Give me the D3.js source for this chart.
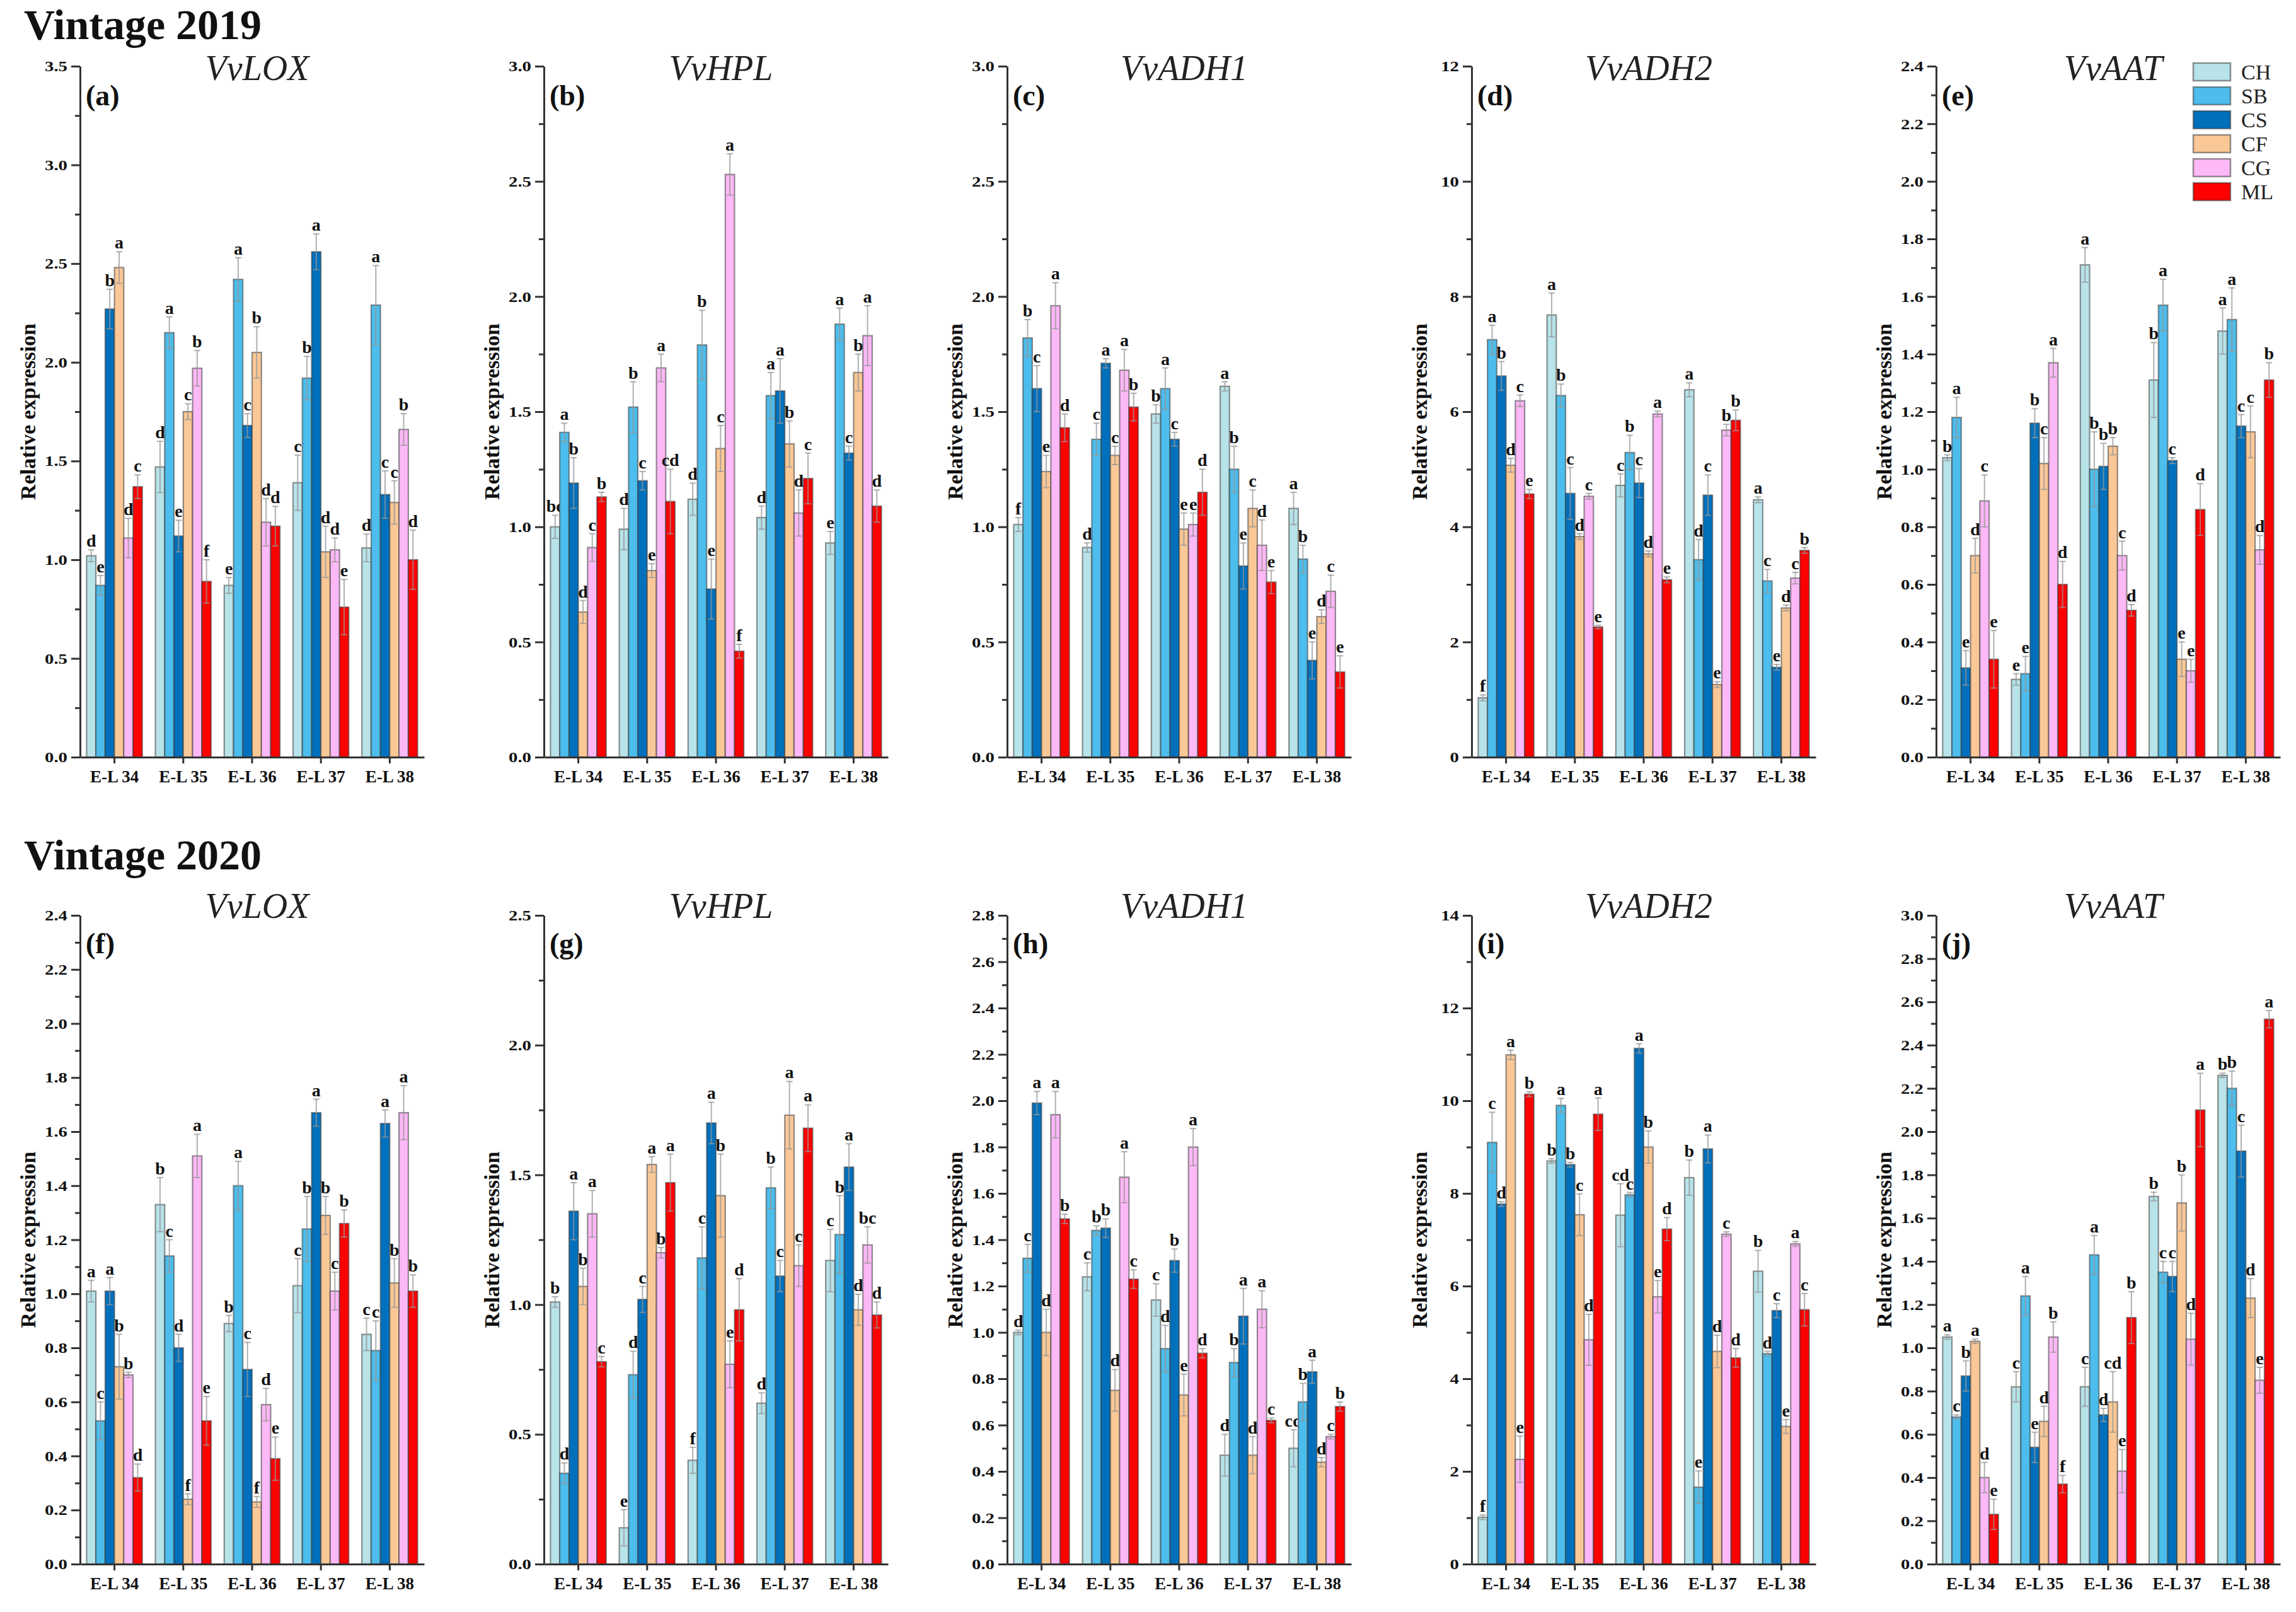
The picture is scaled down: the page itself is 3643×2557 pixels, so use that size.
<!DOCTYPE html>
<html><head><meta charset="utf-8">
<script src="https://cdn.jsdelivr.net/npm/d3@7"></script>
<style>
body{margin:0;background:#fff}
svg{display:block;background:#fff}
text{font-family:"Liberation Serif","Times New Roman",serif}
</style>
</head><body>
<svg id="chart" width="3643" height="2557"></svg>
<script>
// ---------------- DATA ----------------
const stages = ["E-L 34","E-L 35","E-L 36","E-L 37","E-L 38"];
const cultivars = ["CH","SB","CS","CF","CG","ML"];
const vintages = ["Vintage 2019","Vintage 2020"];
const genes = ["VvLOX","VvHPL","VvADH1","VvADH2","VvAAT"];
const panelLabels = ["(a)","(b)","(c)","(d)","(e)","(f)","(g)","(h)","(i)","(j)"];

// values per stage: [CH, SB, CS, CF, CG, ML]
const lox2019 = [[1.02,0.87,2.27,2.48,1.11,1.37],[1.47,2.15,1.12,1.75,1.97,0.89],[0.87,2.42,1.68,2.05,1.19,1.17],[1.39,1.92,2.56,1.04,1.05,0.76],[1.06,2.29,1.33,1.29,1.66,1.00]];
const lox2019Err = [[0.03,0.05,0.10,0.08,0.10,0.06],[0.13,0.08,0.08,0.04,0.09,0.11],[0.04,0.11,0.06,0.13,0.12,0.10],[0.14,0.11,0.09,0.13,0.06,0.14],[0.07,0.20,0.12,0.11,0.08,0.15]];
const lox2019Let = [["d","e","b","a","d","c"],["d","a","e","c","b","f"],["e","a","c","b","d","d"],["c","b","a","d","d","e"],["d","a","c","c","b","d"]];

const hpl2019 = [[1.00,1.41,1.19,0.63,0.91,1.13],[0.99,1.52,1.20,0.81,1.69,1.11],[1.12,1.79,0.73,1.34,2.53,0.46],[1.04,1.57,1.59,1.36,1.06,1.21],[0.93,1.88,1.32,1.67,1.83,1.09]];
const hpl2019Err = [[0.05,0.04,0.11,0.05,0.06,0.02],[0.09,0.11,0.04,0.03,0.06,0.14],[0.07,0.15,0.13,0.10,0.09,0.03],[0.05,0.10,0.14,0.10,0.10,0.11],[0.05,0.07,0.03,0.08,0.13,0.07]];
const hpl2019Let = [["bc","a","b","d","c","b"],["d","b","c","e","a","cd"],["d","b","e","c","a","f"],["d","a","a","b","d","c"],["e","a","c","b","a","d"]];

const adh1_2019 = [[1.01,1.82,1.60,1.24,1.96,1.43],[0.91,1.38,1.71,1.31,1.68,1.52],[1.49,1.60,1.38,0.99,1.01,1.15],[1.61,1.25,0.83,1.08,0.92,0.76],[1.08,0.86,0.42,0.61,0.72,0.37]];
const adh1_2019Err = [[0.03,0.08,0.10,0.07,0.10,0.06],[0.02,0.07,0.02,0.04,0.09,0.06],[0.04,0.09,0.03,0.07,0.05,0.10],[0.02,0.10,0.10,0.08,0.11,0.05],[0.07,0.06,0.08,0.03,0.07,0.07]];
const adh1_2019Let = [["f","b","c","e","a","d"],["d","c","a","c","a","b"],["b","a","c","e","e","d"],["a","b","e","c","d","e"],["a","b","e","d","c","e"]];

const adh2_2019 = [[1.03,7.25,6.62,5.07,6.19,4.57],[7.68,6.28,4.58,3.83,4.53,2.26],[4.72,5.29,4.76,3.53,5.96,3.08],[6.38,3.43,4.55,1.26,5.68,5.85],[4.47,3.06,1.56,2.59,3.11,3.59]];
const adh2_2019Err = [[0.05,0.25,0.25,0.12,0.10,0.08],[0.38,0.20,0.45,0.05,0.05,0.03],[0.20,0.30,0.25,0.05,0.05,0.05],[0.12,0.35,0.35,0.05,0.10,0.18],[0.05,0.20,0.05,0.05,0.10,0.05]];
const adh2_2019Let = [["f","a","b","d","c","e"],["a","b","c","d","c","e"],["c","b","c","d","a","e"],["a","d","c","e","b","b"],["a","c","e","d","c","b"]];

const aat2019 = [[1.04,1.18,0.31,0.70,0.89,0.34],[0.27,0.29,1.16,1.02,1.37,0.60],[1.71,1.00,1.01,1.08,0.70,0.51],[1.31,1.57,1.03,0.34,0.30,0.86],[1.48,1.52,1.15,1.13,0.72,1.31]];
const aat2019Err = [[0.01,0.07,0.06,0.06,0.09,0.10],[0.02,0.06,0.05,0.09,0.05,0.08],[0.06,0.13,0.08,0.03,0.05,0.02],[0.13,0.09,0.01,0.06,0.04,0.09],[0.08,0.11,0.04,0.09,0.05,0.06]];
const aat2019Let = [["b","a","e","d","c","e"],["e","e","b","c","a","d"],["a","b","b","b","c","d"],["b","a","c","e","e","d"],["a","a","c","c","d","b"]];

const lox2020 = [[1.01,0.53,1.01,0.73,0.70,0.32],[1.33,1.14,0.80,0.24,1.51,0.53],[0.89,1.40,0.72,0.23,0.59,0.39],[1.03,1.24,1.67,1.29,1.01,1.26],[0.85,0.79,1.63,1.04,1.67,1.01]];
const lox2020Err = [[0.04,0.07,0.05,0.12,0.01,0.05],[0.10,0.06,0.05,0.02,0.08,0.09],[0.03,0.09,0.10,0.02,0.06,0.08],[0.10,0.12,0.05,0.07,0.07,0.05],[0.06,0.11,0.05,0.09,0.10,0.06]];
const lox2020Let = [["a","c","a","b","b","d"],["b","c","d","f","a","e"],["b","a","c","f","d","e"],["c","b","a","b","c","b"],["c","c","a","b","a","b"]];

const hpl2020 = [[1.01,0.35,1.36,1.07,1.35,0.78],[0.14,0.73,1.02,1.54,1.20,1.47],[0.40,1.18,1.70,1.42,0.77,0.98],[0.62,1.45,1.11,1.73,1.15,1.68],[1.17,1.27,1.53,0.98,1.23,0.96]];
const hpl2020Err = [[0.02,0.04,0.11,0.07,0.09,0.02],[0.07,0.09,0.05,0.03,0.02,0.11],[0.05,0.12,0.08,0.16,0.09,0.12],[0.04,0.08,0.06,0.13,0.08,0.09],[0.12,0.15,0.09,0.06,0.07,0.05]];
const hpl2020Let = [["b","d","a","b","a","c"],["e","d","c","a","b","a"],["f","c","a","b","e","d"],["d","b","c","a","c","a"],["c","b","a","d","bc","d"]];

const adh1_2020 = [[1.00,1.32,1.99,1.00,1.94,1.49],[1.24,1.44,1.45,0.75,1.67,1.23],[1.14,0.93,1.31,0.73,1.80,0.91],[0.47,0.87,1.07,0.47,1.10,0.62],[0.50,0.70,0.83,0.44,0.55,0.68]];
const adh1_2020Err = [[0.01,0.06,0.05,0.10,0.10,0.02],[0.06,0.02,0.04,0.09,0.11,0.04],[0.07,0.10,0.05,0.09,0.08,0.02],[0.09,0.06,0.12,0.08,0.08,0.01],[0.08,0.08,0.05,0.02,0.01,0.02]];
const adh1_2020Let = [["d","c","a","d","a","b"],["c","b","b","d","a","c"],["c","d","b","e","a","d"],["d","b","a","d","a","c"],["cd","b","a","d","c","b"]];

const adh2_2020 = [[1.01,9.10,7.77,10.99,2.26,10.14],[8.70,9.90,8.62,7.54,4.84,9.71],[7.53,7.97,11.13,9.00,5.77,7.23],[8.34,1.66,8.96,4.59,7.12,4.45],[6.32,4.54,5.47,2.97,6.91,5.49]];
const adh2_2020Err = [[0.05,0.65,0.05,0.10,0.50,0.05],[0.05,0.15,0.05,0.45,0.55,0.35],[0.68,0.05,0.10,0.35,0.35,0.25],[0.38,0.35,0.30,0.35,0.05,0.20],[0.45,0.05,0.15,0.15,0.05,0.35]];
const adh2_2020Let = [["f","c","d","a","e","b"],["b","a","b","c","d","a"],["cd","c","a","b","e","d"],["b","e","a","d","c","d"],["b","d","c","e","a","c"]];

const aat2020 = [[1.05,0.68,0.87,1.03,0.40,0.23],[0.82,1.24,0.54,0.66,1.05,0.37],[0.82,1.43,0.69,0.75,0.43,1.14],[1.70,1.35,1.33,1.67,1.04,2.10],[2.26,2.20,1.91,1.23,0.85,2.52]];
const aat2020Err = [[0.01,0.01,0.07,0.01,0.07,0.07],[0.07,0.09,0.07,0.07,0.07,0.04],[0.09,0.09,0.03,0.14,0.10,0.12],[0.02,0.05,0.07,0.13,0.12,0.17],[0.01,0.08,0.12,0.09,0.06,0.04]];
const aat2020Let = [["a","c","b","a","d","e"],["c","a","e","d","b","f"],["c","a","d","cd","e","b"],["b","c","c","b","d","a"],["b","b","c","d","e","a"]];

// y tick labels
const ticksLox2019 = [0.0,0.5,1.0,1.5,2.0,2.5,3.0,3.5];
const ticksHpl2019 = [0.0,0.5,1.0,1.5,2.0,2.5,3.0];
const ticksAdh1_2019 = [0.0,0.5,1.0,1.5,2.0,2.5,3.0];
const ticksAdh2_2019 = [0,2,4,6,8,10,12];
const ticksAat2019 = [0.0,0.2,0.4,0.6,0.8,1.0,1.2,1.4,1.6,1.8,2.0,2.2,2.4];
const ticksLox2020 = [0.0,0.2,0.4,0.6,0.8,1.0,1.2,1.4,1.6,1.8,2.0,2.2,2.4];
const ticksHpl2020 = [0.0,0.5,1.0,1.5,2.0,2.5];
const ticksAdh1_2020 = [0.0,0.2,0.4,0.6,0.8,1.0,1.2,1.4,1.6,1.8,2.0,2.2,2.4,2.6,2.8];
const ticksAdh2_2020 = [0,2,4,6,8,10,12,14];
const ticksAat2020 = [0.0,0.2,0.4,0.6,0.8,1.0,1.2,1.4,1.6,1.8,2.0,2.2,2.4,2.6,2.8,3.0];

// ---------------- STYLE / LAYOUT ----------------
const colors = ["#b7e3e9","#4cbdec","#0070bc","#fac897","#fdb8f7","#fe0000"];
const colX = [127, 863, 1598, 2335, 3072];
const rowTop = [105, 1452];
const rowH = [1096, 1029];
const geneBase = [127, 1456];
const labelBase = [167, 1512];
const vintageBase = [62, 1379];
const plotW = 546;
const FONT = '"Liberation Serif","Times New Roman",serif';

const panels = [
  {vals:lox2019, err:lox2019Err, let:lox2019Let, ticks:ticksLox2019, dec:1},
  {vals:hpl2019, err:hpl2019Err, let:hpl2019Let, ticks:ticksHpl2019, dec:1},
  {vals:adh1_2019, err:adh1_2019Err, let:adh1_2019Let, ticks:ticksAdh1_2019, dec:1},
  {vals:adh2_2019, err:adh2_2019Err, let:adh2_2019Let, ticks:ticksAdh2_2019, dec:0},
  {vals:aat2019, err:aat2019Err, let:aat2019Let, ticks:ticksAat2019, dec:1},
  {vals:lox2020, err:lox2020Err, let:lox2020Let, ticks:ticksLox2020, dec:1},
  {vals:hpl2020, err:hpl2020Err, let:hpl2020Let, ticks:ticksHpl2020, dec:1},
  {vals:adh1_2020, err:adh1_2020Err, let:adh1_2020Let, ticks:ticksAdh1_2020, dec:1},
  {vals:adh2_2020, err:adh2_2020Err, let:adh2_2020Let, ticks:ticksAdh2_2020, dec:0},
  {vals:aat2020, err:aat2020Err, let:aat2020Let, ticks:ticksAat2020, dec:1}
];

const svg = d3.select("#chart");
svg.append("rect").attr("width",3643).attr("height",2557).attr("fill","#fff");

// vintage titles
vintages.forEach((v,r)=>{
  svg.append("text").attr("x",38).attr("y", vintageBase[r])
    .attr("font-size",68).attr("font-weight","bold").attr("fill","#111").text(v);
});

panels.forEach((p,k)=>{
  const r = Math.floor(k/5), c = k%5;
  const x0 = colX[c], top = rowTop[r], plotH = rowH[r];
  const g = svg.append("g");
  const yMax = p.ticks[p.ticks.length-1];
  const y = d3.scaleLinear().domain([0,yMax]).range([top+plotH, top]);
  const xb = d3.scaleBand().domain(stages).range([x0, x0+plotW]).paddingInner(0.19).paddingOuter(0.095);
  const xi = d3.scaleBand().domain(cultivars).range([0, xb.bandwidth()]);

  // bars
  stages.forEach((s,i)=>{
    cultivars.forEach((cv,j)=>{
      const v = p.vals[i][j], e = p.err[i][j];
      const bx = xb(s)+xi(cv), bw = xi.bandwidth();
      g.append("rect").attr("x",bx).attr("y",y(v)).attr("width",bw).attr("height",y(0)-y(v))
        .attr("fill",colors[j]).attr("stroke","rgba(60,60,60,0.55)").attr("stroke-width",2.2);
      const cx = bx+bw/2;
      const eg = g.append("g").attr("stroke","rgba(150,150,150,0.75)").attr("stroke-width",2);
      eg.append("line").attr("x1",cx).attr("x2",cx).attr("y1",y(v-e)).attr("y2",y(v+e));
      eg.append("line").attr("x1",cx-5).attr("x2",cx+5).attr("y1",y(v+e)).attr("y2",y(v+e));
      eg.append("line").attr("x1",cx-5).attr("x2",cx+5).attr("y1",y(v-e)).attr("y2",y(v-e));
      g.append("text").attr("x",cx).attr("y",y(v+e)-5).attr("text-anchor","middle")
        .attr("font-size",28).attr("font-weight","bold").attr("fill","#111").text(p.let[i][j]);
    });
  });

  // y axis
  const fmt = p.dec ? (d=>d.toFixed(1)) : (d=>String(d));
  const ya = g.append("g").attr("transform",`translate(${x0},0)`)
    .call(d3.axisLeft(y).tickValues(p.ticks).tickSize(14).tickPadding(6).tickSizeOuter(0).tickFormat(fmt));
  const minors = [];
  for(let t=0;t<p.ticks.length-1;t++) minors.push((p.ticks[t]+p.ticks[t+1])/2);
  const ym = g.append("g").attr("transform",`translate(${x0},0)`)
    .call(d3.axisLeft(y).tickValues(minors).tickSize(8).tickFormat("").tickSizeOuter(0));
  ym.select(".domain").remove();
  [ya,ym].forEach(a=>{
    a.selectAll("path,line").attr("stroke","#333").attr("stroke-width",3);
  });
  ya.selectAll("text").each(function(){
    const t = d3.select(this);
    const xx = +t.attr("x");
    t.attr("x",0).attr("transform",`translate(${xx},0) scale(1.2,1)`);
  }).attr("font-size",24).attr("font-weight","bold").attr("font-family",FONT).attr("fill","#111");

  // x axis
  const xa = g.append("g").attr("transform",`translate(0,${top+plotH})`)
    .call(d3.axisBottom(xb).tickSize(10).tickPadding(11).tickSizeOuter(0));
  xa.selectAll("path,line").attr("stroke","#333").attr("stroke-width",3);
  xa.selectAll("text").attr("font-size",27).attr("font-weight","bold").attr("font-family",FONT).attr("fill","#111");

  // axis title
  g.append("text").attr("transform",`translate(${x0-83},${top+plotH/2}) rotate(-90)`)
    .attr("text-anchor","middle").attr("dy","0.35em").attr("font-size",34).attr("font-weight","bold")
    .attr("fill","#111").text("Relative expression");

  // gene title
  g.append("text").attr("x",x0+plotW/2+8).attr("y",geneBase[r]).attr("text-anchor","middle")
    .attr("font-size",56).attr("font-style","italic").attr("fill","#222").text(genes[c]);

  // panel label
  g.append("text").attr("x",x0+9).attr("y",labelBase[r]).attr("font-size",46).attr("font-weight","bold")
    .attr("fill","#111").text(panelLabels[k]);
});

// legend
const lg = svg.append("g");
cultivars.forEach((cv,j)=>{
  const yy = 100 + 38*j;
  lg.append("rect").attr("x",3480).attr("y",yy).attr("width",59).attr("height",28)
    .attr("fill",colors[j]).attr("stroke","rgba(60,60,60,0.55)").attr("stroke-width",2.5);
  lg.append("text").attr("x",3556).attr("y",yy+26).attr("font-size",34).attr("fill","#222").text(cv);
});
</script>
</body></html>
